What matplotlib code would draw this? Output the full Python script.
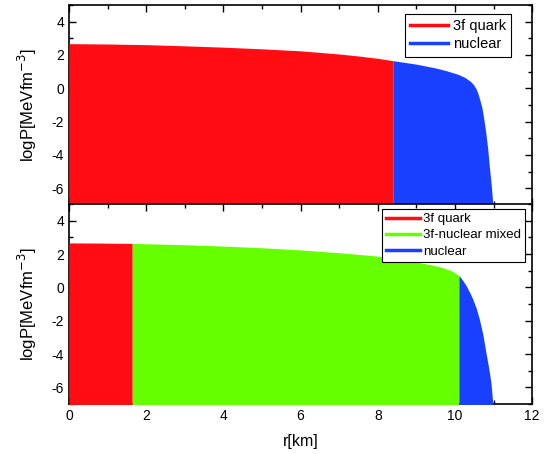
import numpy as np
import matplotlib.pyplot as plt
from matplotlib.lines import Line2D
from matplotlib.ticker import MultipleLocator

plt.rcParams['font.family'] = ['Liberation Sans', 'DejaVu Sans']
plt.rcParams['axes.unicode_minus'] = False

# pure 3f quark star: quark core + nuclear crust
r_quark_a = [0.0, 1.0, 2.0, 3.0, 4.0, 5.0, 6.0, 7.0, 7.5, 8.0, 8.39]
p_quark_a = [2.68, 2.66, 2.62, 2.55, 2.47, 2.37, 2.25, 2.06, 1.94, 1.80, 1.66]
r_nuc_a = [8.39, 9.0, 9.5, 9.77, 10.0, 10.1, 10.25, 10.4, 10.48, 10.55, 10.6, 10.65,
           10.7, 10.75, 10.8, 10.85, 10.89, 10.93, 10.96, 10.98]
p_nuc_a = [1.66, 1.45, 1.22, 1.06, 0.90, 0.82, 0.66, 0.42, 0.22, -0.05, -0.35, -0.75,
           -1.20, -1.90, -2.70, -3.70, -4.70, -5.60, -6.40, -7.00]

# hybrid star: quark core + mixed phase + nuclear crust
r_quark_b = [0.0, 0.8, 1.64]
p_quark_b = [2.67, 2.66, 2.64]
r_mixed_b = [1.64, 2.0, 3.0, 4.0, 5.0, 6.0, 7.0, 8.0, 8.5, 9.0, 9.4, 9.6, 9.77, 9.9, 10.0, 10.1]
p_mixed_b = [2.64, 2.62, 2.56, 2.48, 2.38, 2.25, 2.08, 1.88, 1.72, 1.52, 1.35, 1.24, 1.12, 1.00, 0.88, 0.70]
r_nuc_b = [10.1, 10.15, 10.2, 10.29, 10.38, 10.46, 10.55, 10.63, 10.72, 10.8, 10.87, 10.93, 10.98]
p_nuc_b = [0.70, 0.58, 0.42, 0.10, -0.30, -0.70, -1.25, -1.90, -2.80, -3.90, -4.80, -5.70, -7.00]

RED = '#ff0d12'
GREEN = '#66ff00'
BLUE = '#1a40ff'

fig = plt.figure(figsize=(5.47, 4.54), dpi=100)
ax_top = fig.add_axes([0.126, 0.5485, 0.847, 0.4405])
ax_bot = fig.add_axes([0.126, 0.110, 0.847, 0.4405])


def fill_region(ax, r, p, color):
    ax.fill_between(r, p, -7.5, color=color, linewidth=0, zorder=3)


fill_region(ax_top, r_quark_a, p_quark_a, RED)
fill_region(ax_top, r_nuc_a, p_nuc_a, BLUE)

fill_region(ax_bot, r_quark_b, p_quark_b, RED)
fill_region(ax_bot, r_mixed_b, p_mixed_b, GREEN)
fill_region(ax_bot, r_nuc_b, p_nuc_b, BLUE)

for ax in (ax_top, ax_bot):
    ax.set_xlim(0, 12)
    ax.set_ylim(-7, 5)
    ax.xaxis.set_major_locator(MultipleLocator(2))
    ax.xaxis.set_minor_locator(MultipleLocator(1))
    ax.yaxis.set_major_locator(MultipleLocator(2))
    ax.yaxis.set_minor_locator(MultipleLocator(1))
    ax.tick_params(which='both', direction='in', top=True, right=True, labelsize=10)
    ax.tick_params(which='major', length=5, width=1)
    ax.tick_params(which='minor', length=3, width=1)
    for s in ax.spines.values():
        s.set_linewidth(1.2)
    ax.set_ylabel('logP[MeVfm$^{-3}$]', fontsize=12, labelpad=9)

ax_top.tick_params(labelbottom=False)
ax_bot.set_xlabel('r[km]', fontsize=11.5, labelpad=8)

h_top = [Line2D([], [], color=RED, lw=2.5), Line2D([], [], color=BLUE, lw=2.5)]
leg = ax_top.legend(h_top, ['3f quark', 'nuclear'], loc='upper right',
                    bbox_to_anchor=(0.955, 0.955), fontsize=10.5, frameon=True,
                    fancybox=False, edgecolor='black', framealpha=1,
                    handlelength=2.6, handletextpad=0.35, labelspacing=0.3,
                    borderpad=0.35, borderaxespad=0)
leg.get_frame().set_linewidth(0.8)
leg.set_zorder(5)

h_bot = [Line2D([], [], color=RED, lw=2.5), Line2D([], [], color=GREEN, lw=2.5),
         Line2D([], [], color=BLUE, lw=2.5)]
leg = ax_bot.legend(h_bot, ['3f quark', '3f-nuclear mixed', 'nuclear'], loc='upper right',
                    bbox_to_anchor=(0.985, 0.975), fontsize=9.5, frameon=True,
                    fancybox=False, edgecolor='black', framealpha=1,
                    handlelength=2.6, handletextpad=0.25, labelspacing=0.3,
                    borderpad=0.3, borderaxespad=0)
leg.get_frame().set_linewidth(0.8)
leg.set_zorder(5)

fig.savefig('out.png', dpi=100)
